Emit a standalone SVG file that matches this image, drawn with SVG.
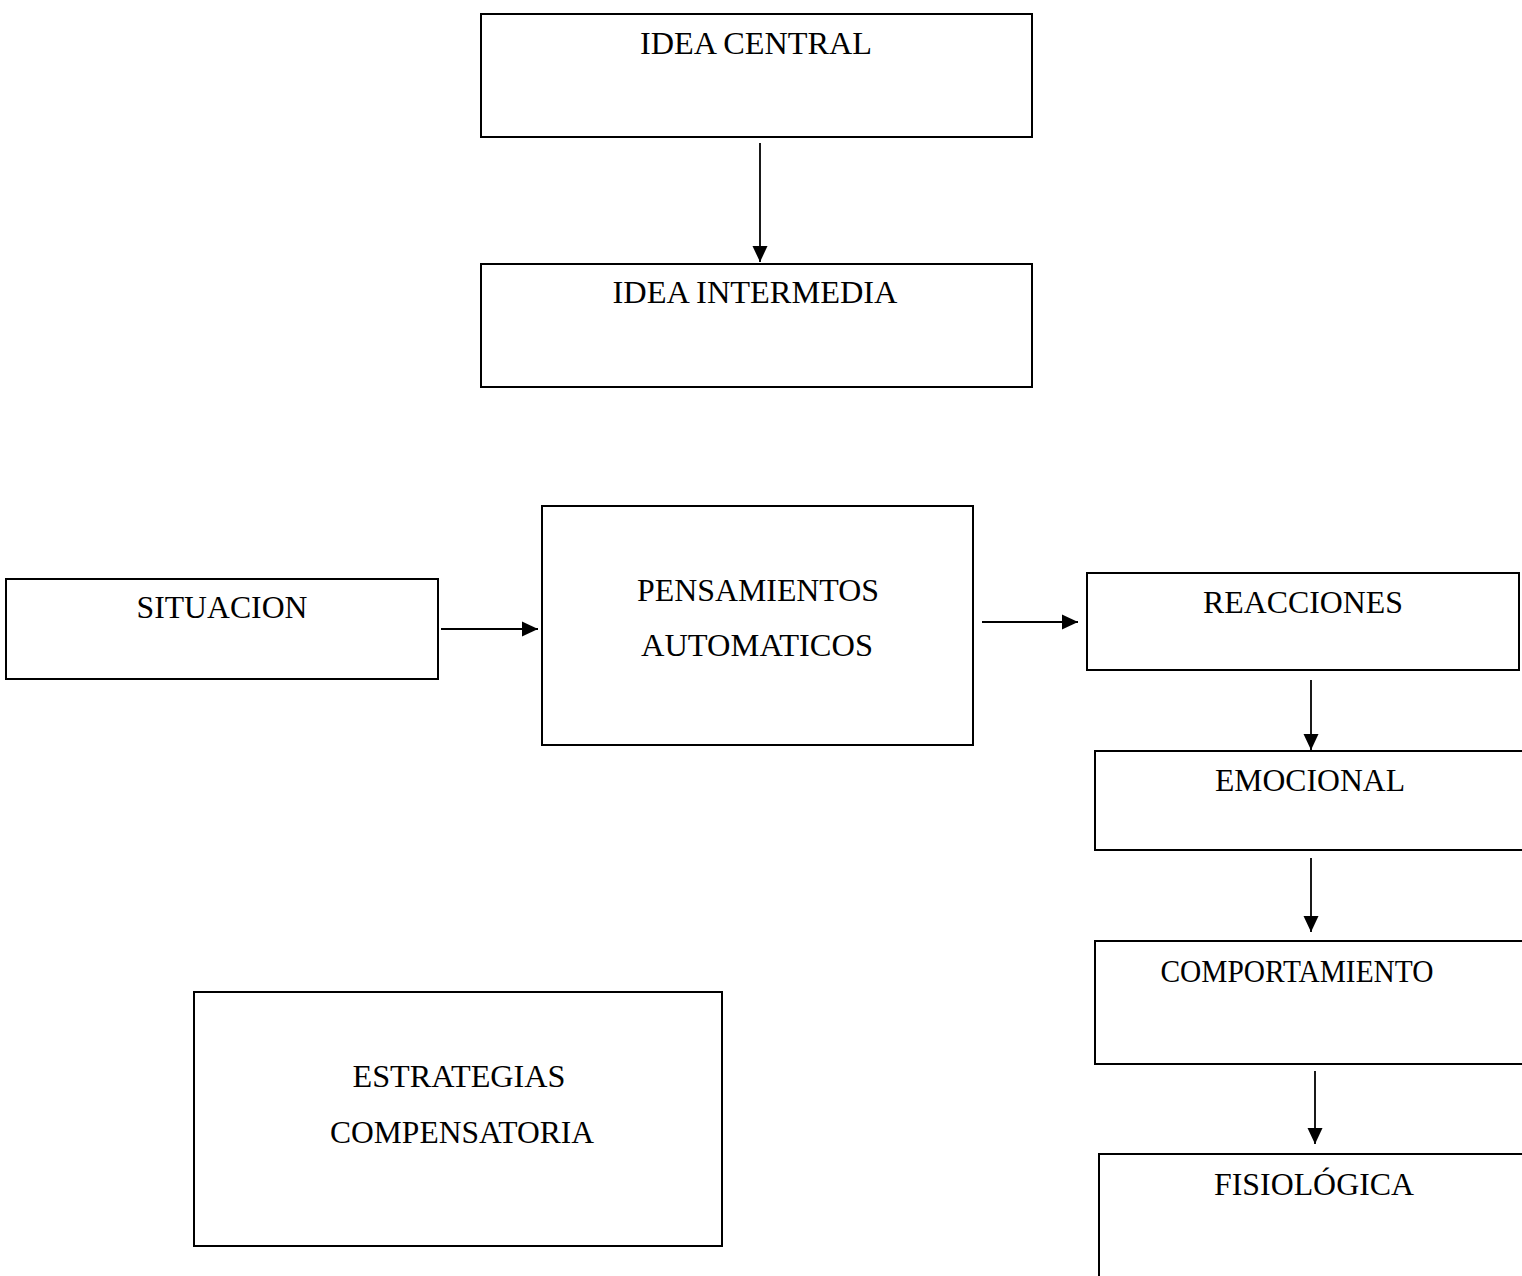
<svg xmlns="http://www.w3.org/2000/svg" width="1522" height="1276" viewBox="0 0 1522 1276">
<style>
.box{fill:#fff;stroke:#000;stroke-width:2}
.lbl{font-family:"Liberation Serif","Times New Roman",serif;font-size:32px;fill:#000;text-anchor:middle}
.conn{stroke:#000;stroke-width:1.8;fill:none;marker-end:url(#ah)}
</style>
<defs>
<marker id="ah" markerUnits="userSpaceOnUse" markerWidth="16" markerHeight="16" refX="16" refY="8" orient="auto">
<path d="M0,0.5 L16,8 L0,15.5 z" fill="#000"/>
</marker>
</defs>
<rect width="1522" height="1276" fill="#fff"/>
<g id="idea-central"><rect class="box" x="481" y="14" width="551" height="123"/><text class="lbl" x="756" y="54" textLength="232" lengthAdjust="spacingAndGlyphs">IDEA CENTRAL</text></g>
<g id="idea-intermedia"><rect class="box" x="481" y="264" width="551" height="123"/><text class="lbl" x="755" y="303" textLength="285" lengthAdjust="spacingAndGlyphs">IDEA INTERMEDIA</text></g>
<g id="situacion"><rect class="box" x="6" y="579" width="432" height="100"/><text class="lbl" x="222" y="618" textLength="171" lengthAdjust="spacingAndGlyphs">SITUACION</text></g>
<g id="pensamientos"><rect class="box" x="542" y="506" width="431" height="239"/><text class="lbl" x="758" y="601" textLength="242" lengthAdjust="spacingAndGlyphs">PENSAMIENTOS</text><text class="lbl" x="757" y="656" textLength="232" lengthAdjust="spacingAndGlyphs">AUTOMATICOS</text></g>
<g id="reacciones"><rect class="box" x="1087" y="573" width="432" height="97"/><text class="lbl" x="1303" y="613" textLength="200" lengthAdjust="spacingAndGlyphs">REACCIONES</text></g>
<g id="emocional"><rect class="box" x="1095" y="751" width="440" height="99"/><text class="lbl" x="1310" y="791" textLength="190" lengthAdjust="spacingAndGlyphs">EMOCIONAL</text></g>
<g id="comportamiento"><rect class="box" x="1095" y="941" width="440" height="123"/><text class="lbl" x="1297" y="982" textLength="273" lengthAdjust="spacingAndGlyphs">COMPORTAMIENTO</text></g>
<g id="fisiologica"><rect class="box" x="1099" y="1154" width="440" height="140"/><text class="lbl" x="1314" y="1195" textLength="200" lengthAdjust="spacingAndGlyphs">FISIOLÓGICA</text></g>
<g id="estrategias"><rect class="box" x="194" y="992" width="528" height="254"/><text class="lbl" x="459" y="1087" textLength="213" lengthAdjust="spacingAndGlyphs">ESTRATEGIAS</text><text class="lbl" x="462" y="1143" textLength="264" lengthAdjust="spacingAndGlyphs">COMPENSATORIA</text></g>
<g id="connectors">
<line class="conn" x1="760" y1="143" x2="760" y2="262"/>
<line class="conn" x1="441" y1="629" x2="538" y2="629"/>
<line class="conn" x1="982" y1="622" x2="1078" y2="622"/>
<line class="conn" x1="1311" y1="680" x2="1311" y2="750"/>
<line class="conn" x1="1311" y1="858" x2="1311" y2="932"/>
<line class="conn" x1="1315" y1="1071" x2="1315" y2="1144"/>
</g>
</svg>
